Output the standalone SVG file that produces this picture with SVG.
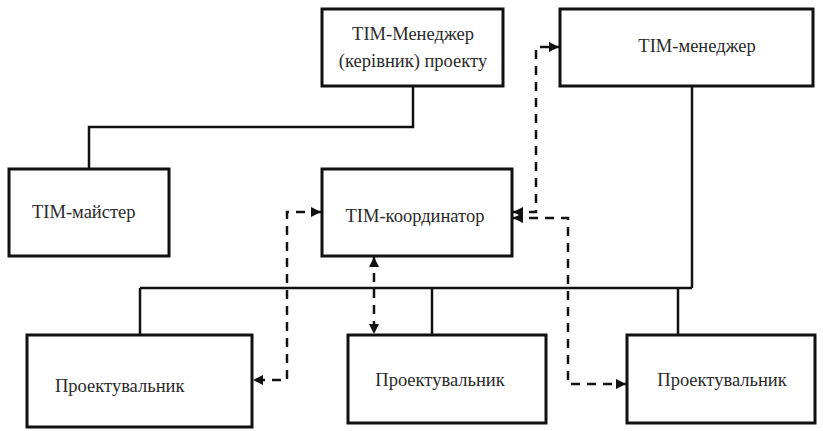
<svg xmlns="http://www.w3.org/2000/svg" width="823" height="431" viewBox="0 0 823 431">
<style>
.box{fill:#fff;stroke:#111;stroke-width:3}
.t{font-family:'Liberation Serif','DejaVu Serif','Times New Roman',serif;font-size:18.5px;fill:#2a2a2a}
.s{fill:none;stroke:#111;stroke-width:2.5}
.d{fill:none;stroke:#111;stroke-width:2.5;stroke-dasharray:9 7}
</style>
<defs>
<marker id="ah" viewBox="0 0 10 10" refX="10" refY="5" markerWidth="4" markerHeight="4" orient="auto-start-reverse" markerUnits="strokeWidth">
<path d="M0,0 L10,5 L0,10 z" fill="#111"/>
</marker>
</defs>
<rect width="823" height="431" fill="#fff"/>
<g id="connectors">
<polyline class="s" points="413,86 413,127 89,127 89,169"/>
<line class="s" x1="140" y1="288" x2="692" y2="288"/>
<line class="s" x1="692" y1="86" x2="692" y2="288"/>
<line class="s" x1="140" y1="288" x2="140" y2="335"/>
<line class="s" x1="432" y1="288" x2="432" y2="335"/>
<line class="s" x1="678" y1="288" x2="678" y2="335"/>
<line class="d" x1="374" y1="257" x2="374" y2="334" marker-start="url(#ah)" marker-end="url(#ah)"/>
<polyline class="d" points="321,212 287,212 287,380 253,380" marker-start="url(#ah)" marker-end="url(#ah)"/>
<polyline class="d" points="513,212 536,212 536,47 559,47" marker-start="url(#ah)" marker-end="url(#ah)"/>
<polyline class="d" points="513,218 568,218 568,384 626,384" marker-start="url(#ah)" marker-end="url(#ah)"/>
</g>
<g id="n1"><rect class="box" x="322" y="9" width="181" height="77"/>
<text class="t" x="413" y="40" text-anchor="middle">ТІМ-Менеджер</text>
<text class="t" x="413" y="67" text-anchor="middle">(керівник) проекту</text></g>
<g id="n2"><rect class="box" x="560" y="9" width="253" height="77"/>
<text class="t" x="697" y="52" text-anchor="middle">ТІМ-менеджер</text></g>
<g id="n3"><rect class="box" x="9" y="169" width="160" height="87"/>
<text class="t" x="32" y="218">ТІМ-майстер</text></g>
<g id="n4"><rect class="box" x="322" y="169" width="190" height="87"/>
<text class="t" x="415" y="222" text-anchor="middle">ТІМ-координатор</text></g>
<g id="n5"><rect class="box" x="27" y="335" width="225" height="92"/>
<text class="t" x="55" y="392">Проектувальник</text></g>
<g id="n6"><rect class="box" x="348" y="335" width="198" height="88"/>
<text class="t" x="440" y="386" text-anchor="middle">Проектувальник</text></g>
<g id="n7"><rect class="box" x="627" y="335" width="188" height="88"/>
<text class="t" x="722" y="386" text-anchor="middle">Проектувальник</text></g>
</svg>
